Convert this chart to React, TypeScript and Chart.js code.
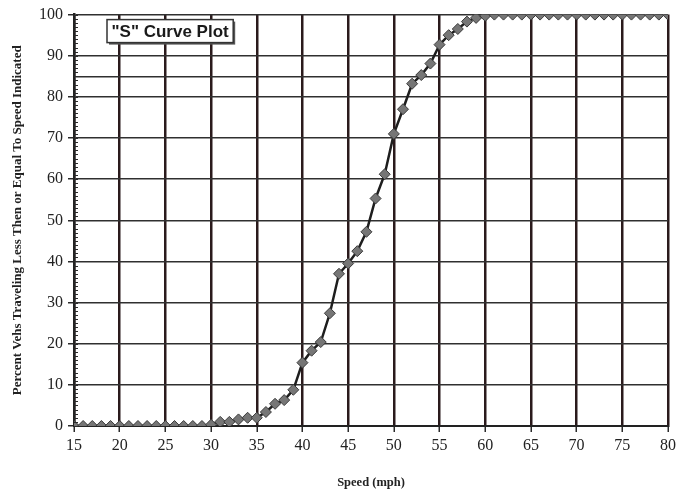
import React, { useEffect, useRef } from "react";
import { Chart, registerables } from "chart.js";

Chart.register(...registerables);

const speeds: number[] = [
  15, 16, 17, 18, 19, 20, 21, 22, 23, 24, 25, 26, 27, 28, 29, 30, 31, 32, 33, 34, 35,
  36, 37, 38, 39, 40, 41, 42, 43, 44, 45, 46, 47, 48, 49, 50, 51, 52, 53, 54, 55,
  56, 57, 58, 59, 60, 61, 62, 63, 64, 65, 66, 67, 68, 69, 70, 71, 72, 73, 74, 75,
  76, 77, 78, 79, 80,
];

const percents: number[] = [
  0, 0, 0, 0, 0, 0, 0, 0, 0, 0, 0, 0, 0, 0, 0, 0.3, 1, 1, 1.6, 2, 2,
  3.4, 5.4, 6.3, 8.8, 15.4, 18.3, 20.4, 27.4, 37, 39.5, 42.5, 47.2, 55.3, 61.2, 71, 77, 83.2, 85.3, 88.1, 92.7,
  95, 96.5, 98.3, 99.2, 99.7, 100, 100, 100, 100, 100, 100, 100, 100, 100, 100, 100, 100, 100, 100, 100,
  100, 100, 100, 100, 100,
];

const yTicks: number[] = [0, 10, 20, 30, 40, 50, 60, 70, 80, 85, 90, 100];
const xTickStep = 5;

const chartTitle = '"S" Curve Plot';
const xTitle = "Speed (mph)";
const yTitle = "Percent Vehs Traveling Less Then or Equal To Speed Indicated";

const titleBoxPlugin = {
  id: "titleBox",
  afterDraw(chart: any) {
    const ctx = chart.ctx;
    const { left, top } = chart.chartArea;
    const y = chart.scales.y;
    // minor ticks on y axis
    ctx.save();
    ctx.strokeStyle = "#2a2a2a";
    ctx.lineWidth = 1;
    for (let v = 0; v <= 100; v += 1) {
      const py = Math.round(y.getPixelForValue(v)) + 0.5;
      ctx.beginPath();
      ctx.moveTo(left, py);
      ctx.lineTo(left + 4, py);
      ctx.stroke();
    }
    ctx.restore();

    // title box
    ctx.save();
    ctx.font = "bold 17px 'Liberation Sans', Arial, sans-serif";
    const tw = ctx.measureText(chartTitle).width;
    const bx = left + 33;
    const by = top + 5;
    const bw = tw + 9;
    const bh = 23;
    ctx.fillStyle = "#555";
    ctx.fillRect(bx + 2, by + 2, bw, bh);
    ctx.fillStyle = "#fff";
    ctx.fillRect(bx, by, bw, bh);
    ctx.strokeStyle = "#333";
    ctx.lineWidth = 1.5;
    ctx.strokeRect(bx, by, bw, bh);
    ctx.fillStyle = "#1a1a1a";
    ctx.textBaseline = "middle";
    ctx.textAlign = "left";
    ctx.fillText(chartTitle, bx + 4.5, by + bh / 2 + 1);
    ctx.restore();
  },
};

export default function App() {
  const canvasRef = useRef<HTMLCanvasElement | null>(null);

  useEffect(() => {
    document.body.style.margin = "0";
    const canvas = canvasRef.current;
    if (!canvas) return;
    const chart = new Chart(canvas, {
      type: "line",
      data: {
        datasets: [
          {
            data: speeds.map((s, i) => ({ x: s, y: percents[i] })),
            borderColor: "#1e1e1e",
            borderWidth: 2.5,
            pointStyle: "rectRot",
            pointRadius: 5.5,
            pointBackgroundColor: "#767676",
            pointBorderColor: "#3a3a3a",
            pointBorderWidth: 1,
            tension: 0,
          },
        ],
      },
      options: {
        animation: false,
        responsive: false,
        devicePixelRatio: 1,
        layout: { padding: { top: 13, right: 16, left: 0, bottom: 0 } },
        plugins: {
          legend: { display: false },
          tooltip: { enabled: false },
        },
        scales: {
          x: {
            type: "linear",
            min: 15,
            max: 80,
            ticks: {
              stepSize: xTickStep,
              color: "#222",
              padding: 4,
              font: { family: "'Liberation Serif', 'Times New Roman', serif", size: 16 },
              maxRotation: 0,
            },
            grid: {
              color: "#2a1a1c",
              lineWidth: 2.5,
              tickLength: 6,
              tickColor: "#2a2a2a",
              tickWidth: 1.5,
            },
            border: { color: "#222", width: 2 },
            title: {
              display: true,
              text: xTitle,
              color: "#222",
              font: { family: "'Liberation Serif', 'Times New Roman', serif", size: 12.5, weight: "bold" },
              padding: { top: 0, bottom: 3 },
            },
            afterFit(scale: any) {
              scale.height = 67;
            },
          },
          y: {
            type: "linear",
            min: 0,
            max: 100,
            afterBuildTicks(scale: any) {
              scale.ticks = yTicks.map((v) => ({ value: v }));
            },
            ticks: {
              color: "#222",
              padding: 5,
              font: { family: "'Liberation Serif', 'Times New Roman', serif", size: 16 },
              callback: (v: any) => (v === 85 ? "" : String(v)),
            },
            grid: {
              color: "#303030",
              lineWidth: 1.5,
              tickLength: 6,
              tickColor: (ctx: any) => (ctx.tick && ctx.tick.value === 85 ? "rgba(0,0,0,0)" : "#2a2a2a"),
              tickWidth: 1.5,
            },
            border: { color: "#222", width: 2.5 },
            title: {
              display: true,
              text: yTitle,
              color: "#222",
              font: { family: "'Liberation Serif', 'Times New Roman', serif", size: 13, weight: "bold" },
              padding: { top: 10, bottom: 0 },
            },
            afterFit(scale: any) {
              scale.width = 74;
            },
          },
        },
      },
      plugins: [titleBoxPlugin],
    });
    return () => chart.destroy();
  }, []);

  return <canvas ref={canvasRef} width={684} height={493} style={{ display: "block" }} />;
}
